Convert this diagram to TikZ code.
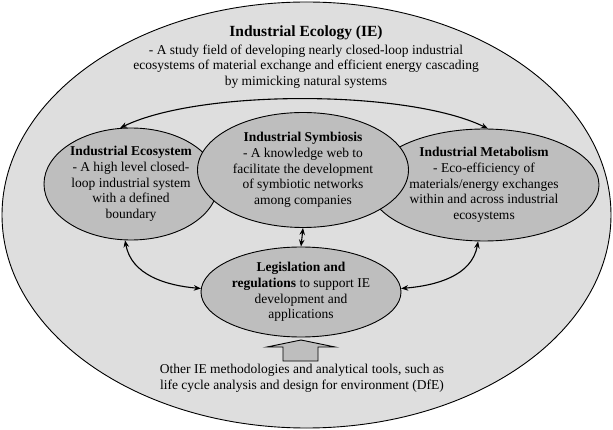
\documentclass[tikz,border=0pt]{standalone}
\usepackage{fontspec}
\setmainfont{Liberation Serif}
\usepackage{xcolor}
\definecolor{ringgray}{RGB}{222,222,222}
\definecolor{blobgray}{RGB}{190,190,190}
\usetikzlibrary{
  shapes.geometric,
  arrows.meta,
  positioning
}

\begin{document}
\begin{tikzpicture}[
  x=1pt, y=-1pt,
  field/.style={ellipse, draw=black, fill=ringgray, line width=0.9pt, inner sep=0pt, minimum width=609pt, minimum height=426pt},
  branch/.style={ellipse, draw=black, fill=blobgray, line width=0.9pt, inner sep=0pt, align=center, font=\fontsize{13.5}{15.7}\selectfont},
  note/.style={align=center, inner sep=0pt, font=\fontsize{13.5}{15.7}\selectfont},
  link/.style={line width=1.1pt, {Stealth[length=7pt,width=5.5pt]}-{Stealth[length=7pt,width=5.5pt]}}
]
  \useasboundingbox (0,0) rectangle (613,430);
  \node[field] (ie) at (306.5,215) {};
  \node[note, font=\fontsize{15.5}{18}\selectfont\bfseries] (title) at (306,33) {Industrial Ecology (IE)};
  \node[note] (scope) at (306,66.5) {- A study field of developing nearly closed-loop industrial\\ecosystems of material exchange and efficient energy cascading\\by mimicking natural systems};
  \node[branch, minimum width=174pt, minimum height=112pt] (eco) at (131,184) {\textbf{Industrial Ecosystem}\\- A high level closed-\\loop industrial system\\with a defined\\boundary};
  \node[branch, minimum width=230pt, minimum height=112pt] (meta) at (484,185) {\textbf{Industrial Metabolism}\\- Eco-efficiency of\\materials/energy exchanges\\within and across industrial\\ecosystems};
  \node[branch, minimum width=211pt, minimum height=115pt] (sym) at (303,170) {\textbf{Industrial Symbiosis}\\- A knowledge web to\\facilitate the development\\of symbiotic networks\\among companies};
  \node[branch, minimum width=200pt, minimum height=90pt] (law) at (301,292) {\textbf{Legislation and}\\\textbf{regulations} to support IE\\development and\\applications};
  \node[note] (tools) at (302,378) {Other IE methodologies and analytical tools, such as\\life cycle analysis and design for environment (DfE)};
  \draw[link] (eco.101) .. controls +(80,-39) and +(-80,-39) .. (meta.86);
  \draw[link] (sym.south) -- (law.north);
  \draw[link] (eco.264) to[out=-80, in=175] (law.178);
  \draw[link] (meta.264) to[out=-100, in=5] (law.2);
  \draw[line width=0.9pt, fill=blobgray] (283,361) -- (283,347) -- (267,347) -- (301,340) -- (335,347) -- (318,347) -- (318,361) -- cycle;
\end{tikzpicture}
\end{document}
